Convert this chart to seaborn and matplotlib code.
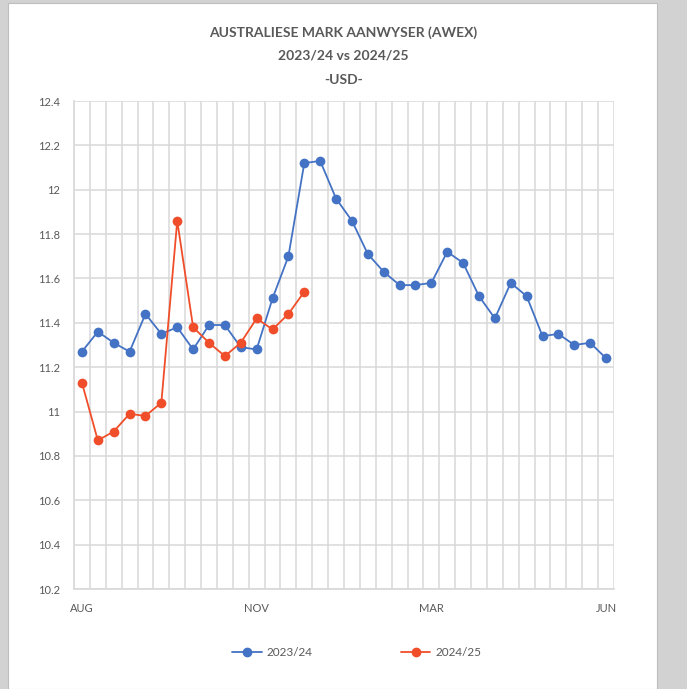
import numpy as np
import pandas as pd
import seaborn as sns
import matplotlib.pyplot as plt
from matplotlib.patches import Rectangle

# weekly AWEX indicator, USD
prices_2324 = [11.27, 11.36, 11.31, 11.27, 11.44, 11.35, 11.38, 11.28, 11.39, 11.39,
               11.29, 11.28, 11.51, 11.70, 12.12, 12.13, 11.96, 11.86, 11.71, 11.63,
               11.57, 11.57, 11.58, 11.72, 11.67, 11.52, 11.42, 11.58, 11.52, 11.34,
               11.35, 11.30, 11.31, 11.24]
prices_2425 = [11.13, 10.87, 10.91, 10.99, 10.98, 11.04, 11.86, 11.38, 11.31, 11.25,
               11.31, 11.42, 11.37, 11.44, 11.54]
month_labels = ["AUG", "NOV", "MAR", "JUN"]
month_pos = [0, 11, 22, 33]
seasons = ["2023/24", "2024/25"]

df = pd.concat([
    pd.DataFrame({"week": range(len(prices_2324)), "price": prices_2324, "season": seasons[0]}),
    pd.DataFrame({"week": range(len(prices_2425)), "price": prices_2425, "season": seasons[1]}),
])

sns.set_theme(style="white")
plt.rcParams['font.family'] = ['Lato', 'DejaVu Sans']
grey_txt = "#595959"
grid_col = "#d9d9d9"

fig = plt.figure(figsize=(6.87, 6.89), dpi=100, facecolor="#d2d2d2")
# white chart panel over the grey background
fig.patches.append(Rectangle((8 / 687, 0), 649 / 687, 686 / 689, transform=fig.transFigure,
                             facecolor="white", edgecolor="#bdbdbd", linewidth=0.8, zorder=-5))
ax = fig.add_axes([74 / 687, 1 - 589 / 689, 540 / 687, 488 / 689])
ax.set_zorder(2)
ax.set_facecolor("white")

sns.lineplot(data=df, x="week", y="price", hue="season",
             palette={"2023/24": "#4472C4", "2024/25": "#F04E2A"},
             marker="o", markersize=7, markeredgewidth=0, linewidth=1.3,
             ax=ax, legend=False, zorder=3)

ax.set_xlim(-0.5, len(prices_2324) - 0.5)
ax.set_ylim(10.2, 12.4)
ax.set_yticks(np.arange(10.2, 12.41, 0.2))
ax.set_yticklabels(["10.2", "10.4", "10.6", "10.8", "11", "11.2", "11.4",
                    "11.6", "11.8", "12", "12.2", "12.4"])
ax.set_xticks(month_pos)
ax.set_xticklabels(month_labels)
ax.set_xticks(np.arange(-0.5, len(prices_2324), 1), minor=True)
ax.grid(True, which="minor", axis="x", color=grid_col, linewidth=1.1)
ax.grid(True, which="major", axis="y", color=grid_col, linewidth=1.1)
ax.tick_params(axis="both", which="both", length=0, colors=grey_txt, labelsize=8)
ax.tick_params(axis="y", pad=10)
ax.tick_params(axis="x", pad=10)
for s in ["top", "right"]:
    ax.spines[s].set_visible(False)
ax.spines["left"].set_color(grid_col)
ax.spines["bottom"].set_color(grid_col)
ax.set_xlabel("")
ax.set_ylabel("")

fig.text(0.5, 1 - 33 / 689, "AUSTRALIESE MARK AANWYSER (AWEX)", ha="center", va="center",
         fontsize=10, fontweight="bold", color=grey_txt)
fig.text(0.5, 1 - 56 / 689, "2023/24 vs 2024/25", ha="center", va="center",
         fontsize=10, fontweight="bold", color=grey_txt)
fig.text(0.5, 1 - 80 / 689, "-USD-", ha="center", va="center",
         fontsize=10, fontweight="bold", color=grey_txt)

handles = [plt.Line2D([], [], color="#4472C4", marker="o", markersize=6, linewidth=1.3),
           plt.Line2D([], [], color="#F04E2A", marker="o", markersize=6, linewidth=1.3)]
leg = fig.legend(handles, seasons, loc="center", bbox_to_anchor=(0.5 + 13 / 687, 1 - 653 / 689),
                 ncol=2, frameon=False, columnspacing=7.5, handlelength=2.5,
                 handletextpad=0.4, fontsize=8.5)
for t in leg.get_texts():
    t.set_color(grey_txt)

fig.savefig("out.png", dpi=100, facecolor=fig.get_facecolor())
